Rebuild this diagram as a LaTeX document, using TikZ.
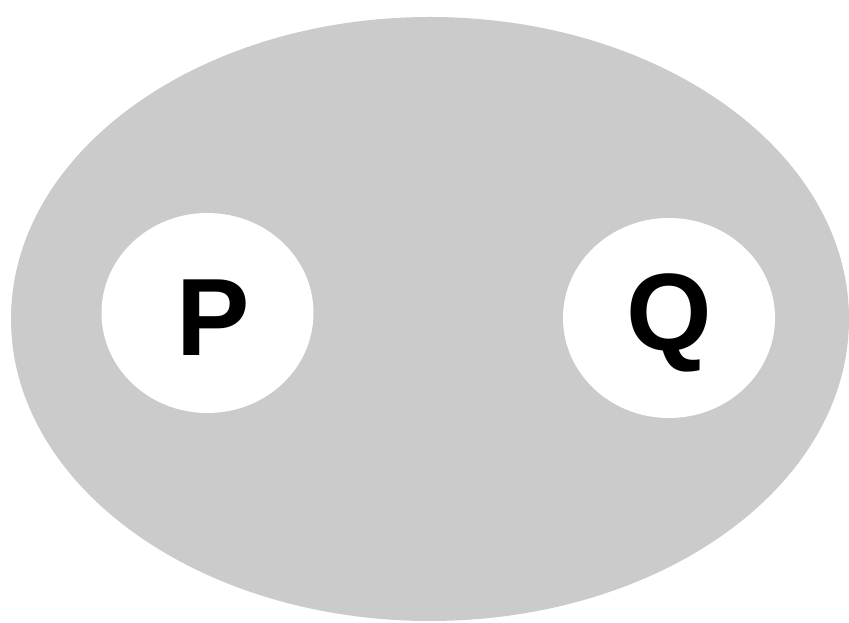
\documentclass[tikz,border=0pt]{standalone}
\usepackage{fontspec}
\setmainfont{Liberation Sans}
\usetikzlibrary{positioning,calc,shapes.geometric}
\definecolor{setgray}{RGB}{203,203,203}
\tikzset{
  setbox/.style={ellipse, fill=setgray, inner sep=0pt,
    minimum width=838pt, minimum height=604pt},
  holebox/.style={ellipse, fill=white, inner sep=0pt,
    minimum width=212pt, minimum height=200pt},
  letter/.style={font=\fontsize{110}{110}\selectfont\bfseries, inner sep=0pt, anchor=base}
}

\begin{document}
\begin{tikzpicture}[x=1pt, y=1pt]
\useasboundingbox (0,0) rectangle (849,623);
\node[setbox] (u) at (430,304) {};
\node[holebox] (p) at (207.5,310) {};
\node[holebox] (q) at (669,305) {};

\node[letter] (plabel) at ($(p)+(6,-43)$) {P};
\node[letter] (qlabel) at ($(q)+(0,-33)$) {Q};
\end{tikzpicture}
\end{document}
